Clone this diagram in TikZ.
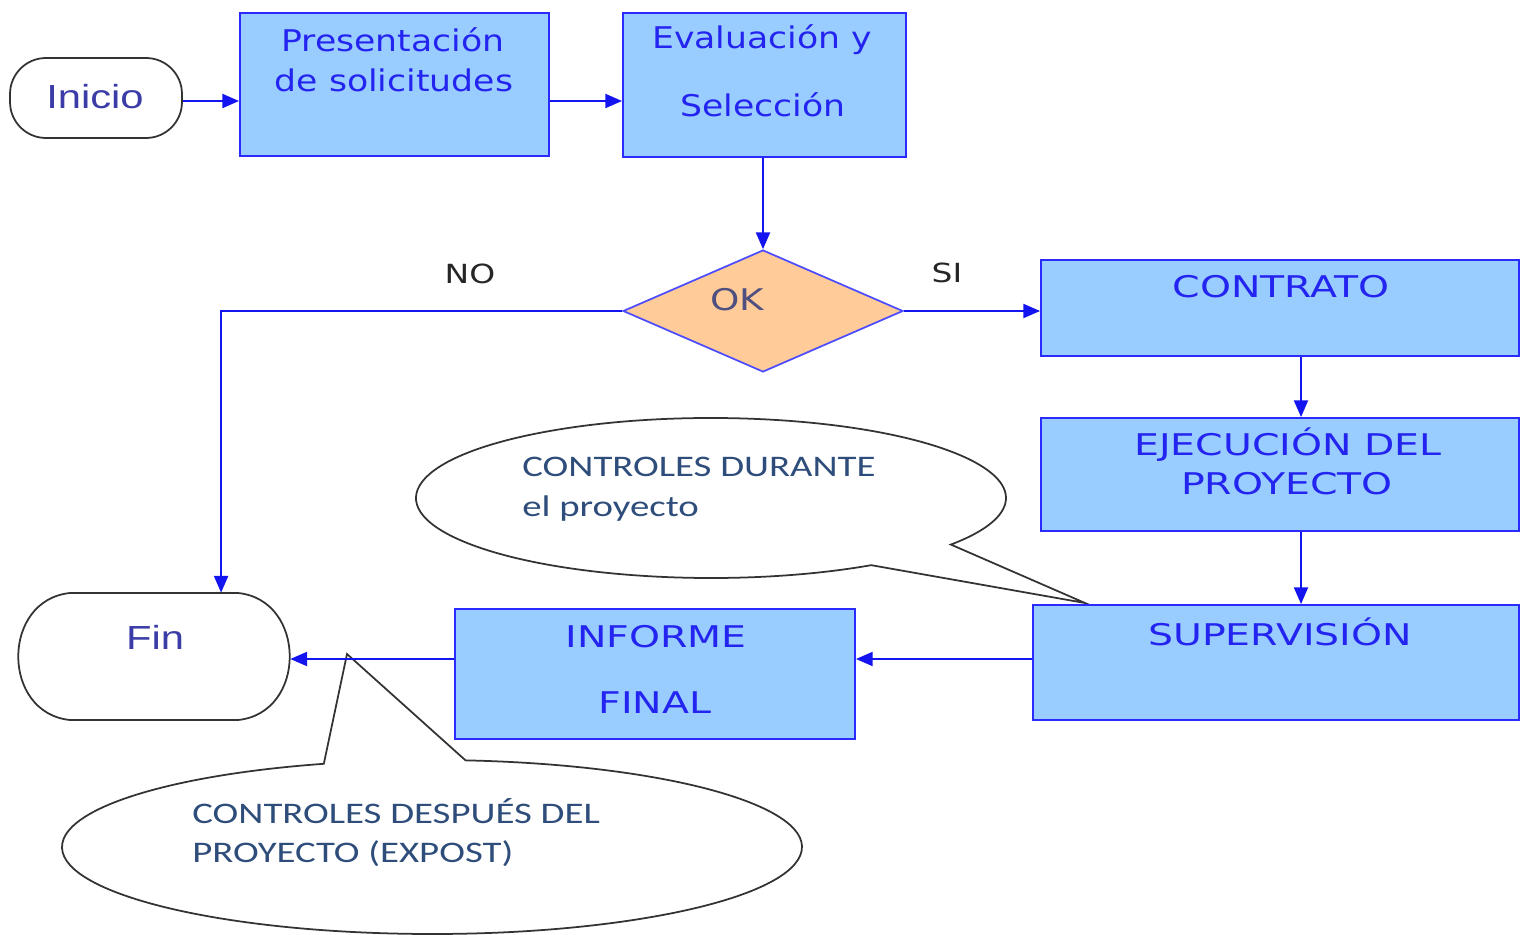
\documentclass[tikz,border=0pt]{standalone}
\usepackage{fontspec}
\setmainfont{DejaVu Sans}
\newfontfamily\libsans{Liberation Sans}
\newfontfamily\carl{Carlito}
\usepackage{graphicx}
\usetikzlibrary{shapes.geometric,arrows.meta,fit,calc}
\definecolor{boxfill}{HTML}{99CCFF}
\definecolor{boxline}{HTML}{2B2BFF}
\definecolor{arrowblue}{HTML}{1414F0}
\definecolor{boxtext}{HTML}{2424F0}
\definecolor{termtext}{HTML}{3C3CA8}
\definecolor{oktext}{HTML}{505080}
\definecolor{diafill}{HTML}{FFCC99}
\definecolor{dialine}{HTML}{4D4DFF}
\definecolor{calltext}{HTML}{2E4D7B}
\definecolor{termline}{HTML}{333333}
\newcommand{\wide}[1]{\scalebox{1.25}[1]{#1}}
\newcommand{\wlow}[1]{\scalebox{1.16}[1]{#1}}
\newcommand{\wcap}[1]{\scalebox{1.32}[1]{#1}}
\newcommand{\wcal}[1]{\scalebox{1.3}[1]{#1}}
\begin{document}
\begin{tikzpicture}[x=0.02cm,y=-0.02cm,
  box/.style={draw=boxline, fill=boxfill, line width=1.1pt, inner sep=0pt},
  arr/.style={draw=arrowblue, line width=1.05pt, -{Triangle[length=9.5pt,width=8pt]}},
  btxt/.style={text=boxtext, font=\fontsize{17}{20}\selectfont, inner sep=0pt},
  ttxt/.style={text=termtext, font=\libsans\fontsize{19}{22}\selectfont, inner sep=0pt},
  lbl/.style={text=black!85, font=\fontsize{15}{18}\selectfont, inner sep=0pt},
  ctxt/.style={text=calltext, font=\carl\fontsize{17}{20}\selectfont, inner sep=0pt, anchor=west},
  callout/.style={draw=termline, fill=white, line width=1pt, line join=miter},
  term/.style={draw=termline, fill=white, line width=1pt}]
\useasboundingbox (0,0) rectangle (1521,935);

% callouts
\coordinate (c1) at (711,498);
\coordinate (tip1) at (1085,603);
\draw[callout] ($(c1)+(57.1:295 and 80)$) arc[start angle=57.1, end angle=395.6, x radius=295, y radius=80] -- (tip1) -- cycle;
\coordinate (c2) at (432,847);
\coordinate (tip2) at (347,654);
\draw[callout] ($(c2)+(-84.8:370 and 87)$) arc[start angle=-84.8, end angle=253, x radius=370, y radius=87] -- (tip2) -- cycle;

% terminals
\node[term, rounded corners=0.72cm, minimum width=3.44cm, minimum height=1.6cm, inner sep=0pt] (inicio) at (96,98) {};
\node[inner sep=0pt, fit={(18,593) (290,720)}] (fin) {};
\draw[term] (70,593) -- (238,593) .. controls (307,600) and (307,713) .. (238,720) -- (70,720) .. controls (1,713) and (1,600) .. (70,593) -- cycle;

% boxes
\node[box, fit={(240,13) (549,156)}] (pres) {};
\node[box, fit={(623,13) (906,157)}] (eval) {};
\node[diamond, draw=dialine, fill=diafill, line width=1pt, minimum width=5.6cm, minimum height=2.44cm, inner sep=0pt] (ok) at (763,311) {};
\node[box, fit={(1041,260) (1519,356)}] (contrato) {};
\node[box, fit={(1041,418) (1519,531)}] (ejec) {};
\node[box, fit={(1033,605) (1519,720)}] (sup) {};
\node[box, fit={(455,609) (855,739)}] (inf) {};

% connectors
\coordinate (vcol) at (1301,0);
\coordinate (hrow) at (0,659);
\draw[arr] (inicio.east |- 0,101) -- (pres.west |- 0,101);
\draw[arr] (pres.east |- 0,101) -- (eval.west |- 0,101);
\draw[arr] (eval.south -| ok.north) -- (ok.north);
\draw[arr] (ok.west) -| ($(fin.north west)!0.746!(fin.north east)$);
\draw[arr] (ok.east) -- (contrato.west |- ok.east);
\draw[arr] (contrato.south -| vcol) -- (ejec.north -| vcol);
\draw[arr] (ejec.south -| vcol) -- (sup.north -| vcol);
\draw[arr] (sup.west |- hrow) -- (inf.east |- hrow);
\draw[arr] (inf.west |- hrow) -- (fin.east |- hrow);

% texts
\node[ttxt] (tinicio) at (95,97) {\wide{Inicio}};
\node[ttxt] (tfin) at (155,637) {\wide{Fin}};
\node[btxt] (tp1) at (393,40) {\wlow{Presentación}};
\node[btxt] (tp2) at (394,80) {\wlow{de solicitudes}};
\node[btxt] (te1) at (762,40) {\wlow{Evaluación y}};
\node[btxt] (te2) at (763,105) {\wlow{Selección}};
\node[btxt, text=oktext] (tok) at (737,300) {\wide{OK}};
\node[lbl] (tno) at (470,274) {\wide{NO}};
\node[lbl] (tsi) at (947,273) {\wide{SI}};
\node[btxt] (tc) at (1281,287) {\wcap{CONTRATO}};
\node[btxt] (tj1) at (1288,445) {\wcap{EJECUCIÓN DEL}};
\node[btxt] (tj2) at (1287,484) {\wcap{PROYECTO}};
\node[btxt] (ts) at (1280,632) {\wcap{SUPERVISIÓN}};
\node[btxt] (ti1) at (656,637) {\wcap{INFORME}};
\node[btxt] (ti2) at (655,703) {\wcap{FINAL}};
\node[ctxt] (d1) at (522,467) {\wcal{CONTROLES DURANTE}};
\node[ctxt] (d2) at (522,509) {\wcal{el proyecto}};
\node[ctxt] (x1) at (192,811) {\wcal{CONTROLES DESPUÉS DEL}};
\node[ctxt] (x2) at (192,854) {\wcal{PROYECTO (EXPOST)}};
\end{tikzpicture}
\end{document}
